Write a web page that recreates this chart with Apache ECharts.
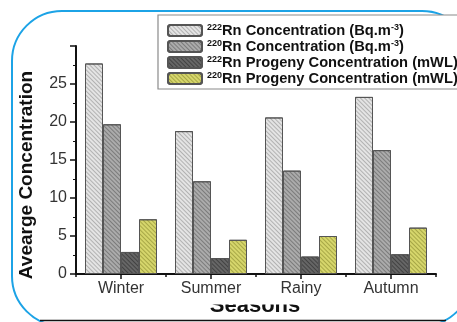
<!DOCTYPE html>
<html>
<head>
<meta charset="utf-8">
<script src="https://cdn.jsdelivr.net/npm/echarts@6/dist/echarts.min.js"></script>
<style>html,body{margin:0;padding:0;background:#fff;}#c{width:457px;height:322px;}</style>
</head>
<body>
<div id="c"></div>
<script>
var categories = ['Winter', 'Summer', 'Rainy', 'Autumn'];
var rn222Conc = [27.7, 18.8, 20.6, 23.3];
var rn220Conc = [19.7, 12.2, 13.6, 16.3];
var rn222Prog = [2.9, 2.1, 2.3, 2.6];
var rn220Prog = [7.2, 4.5, 5.0, 6.1];
var seriesNames = ['222Rn Conc', '220Rn Conc', '222Rn Prog', '220Rn Prog'];
var isotopes = ['222', '220', '222', '220'];
var legendTexts = ['Rn Concentration (Bq.m', 'Rn Concentration (Bq.m', 'Rn Progeny Concentration (mWL)', 'Rn Progeny Concentration (mWL)'];
var legendSups = ['-3', '-3', '', ''];
var legendTails = [')', ')', '', ''];
var yTicks = [0, 5, 10, 15, 20, 25];

var fills = ['#e4e4e4', '#ababab', '#666666', '#d6d66c'];
var hatch = ['rgba(0,0,0,0.22)', 'rgba(0,0,0,0.28)', 'rgba(0,0,0,0.35)', 'rgba(80,80,0,0.35)'];
var values = [rn222Conc, rn220Conc, rn222Prog, rn220Prog];

var chart = echarts.init(document.getElementById('c'));
var series = values.map(function (v, i) {
  return {
    name: seriesNames[i],
    type: 'bar',
    data: v,
    xAxisIndex: 0,
    barGap: '0%',
    barCategoryGap: '20%',
    itemStyle: {
      color: fills[i],
      borderColor: '#555',
      borderWidth: 1,
      decal: {
        symbol: 'rect',
        symbolSize: 1,
        dashArrayX: [1, 0],
        dashArrayY: [1, 2],
        rotation: Math.PI / 4,
        color: hatch[i]
      }
    }
  };
});

chart.setOption({
  animation: false,
  backgroundColor: '#fff',
  grid: { left: 76, right: 21, top: 46, bottom: 48 },
  legend: {
    orient: 'vertical',
    left: 162,
    top: 18,
    itemWidth: 34,
    itemHeight: 11,
    itemGap: 1,
    data: seriesNames,
    formatter: function (name) {
      var i = seriesNames.indexOf(name);
      var s = '{sup|' + isotopes[i] + '}{b|' + legendTexts[i] + '}';
      if (legendSups[i]) s += '{sup|' + legendSups[i] + '}';
      if (legendTails[i]) s += '{b|' + legendTails[i] + '}';
      return s;
    },
    textStyle: {
      rich: {
        b: { fontFamily: 'Liberation Sans, Arial', fontWeight: 'bold', fontSize: 14.7, color: '#111', lineHeight: 15 },
        sup: { fontFamily: 'Liberation Sans, Arial', fontWeight: 'bold', fontSize: 9, color: '#111', verticalAlign: 'top', lineHeight: 15 }
      }
    }
  },
  xAxis: [{
    type: 'category',
    data: categories,
    axisLine: { lineStyle: { color: '#111', width: 2 } },
    axisTick: { show: true, length: 3, inside: false, lineStyle: { color: '#111', width: 1.5 } },
    axisLabel: { fontFamily: 'Liberation Sans, Arial', fontSize: 16, color: '#333', margin: 7 }
  }, {
    type: 'category',
    data: categories,
    position: 'bottom',
    axisLine: { show: false },
    axisTick: { show: true, alignWithLabel: true, length: 5, lineStyle: { color: '#111', width: 1.5 } },
    axisLabel: { show: false }
  }],
  yAxis: {
    type: 'value',
    min: 0,
    max: 30,
    interval: 5,
    axisLine: { show: true, lineStyle: { color: '#111', width: 2 } },
    axisTick: { show: true, length: 6, lineStyle: { color: '#111', width: 1.5 } },
    minorTick: { show: true, splitNumber: 2, length: 3, lineStyle: { color: '#111', width: 1 } },
    splitLine: { show: false },
    axisLabel: {
      fontFamily: 'Liberation Sans, Arial', fontSize: 16, color: '#333', margin: 9,
      formatter: function (v) { return yTicks.indexOf(v) >= 0 ? String(v) : ''; }
    }
  },
  series: series,
  graphic: [
    { type: 'rect', z: -10, shape: { x: 12, y: 11, width: 460, height: 315, r: 50 }, style: { fill: 'none', stroke: '#1ca3e6', lineWidth: 2 } },
    { type: 'rect', z: -5, shape: { x: 158, y: 15, width: 320, height: 74 }, style: { fill: '#fff', stroke: '#8a8a8a', lineWidth: 1.2 } },
    { type: 'text', x: 27, y: 175, rotation: Math.PI / 2, style: { text: 'Avearge Concentration', font: 'bold 19px "Liberation Sans", Arial', fill: '#111', align: 'center', verticalAlign: 'middle' } },
    {
      type: 'group',
      z: 1,
      children: [
        { type: 'text', x: 255, y: 317, style: { text: 'Seasons', font: 'bold 22px "Liberation Sans", Arial', fill: '#111', align: 'center', verticalAlign: 'bottom' } },
        { type: 'rect', shape: { x: 200, y: 296, width: 110, height: 8.5 }, style: { fill: '#ffffff' } }
      ]
    },
    { type: 'line', z: 100, shape: { x1: 40, y1: 320.5, x2: 446, y2: 320.5 }, style: { stroke: '#111', lineWidth: 1.5 } }
  ]
});
</script>
</body>
</html>
